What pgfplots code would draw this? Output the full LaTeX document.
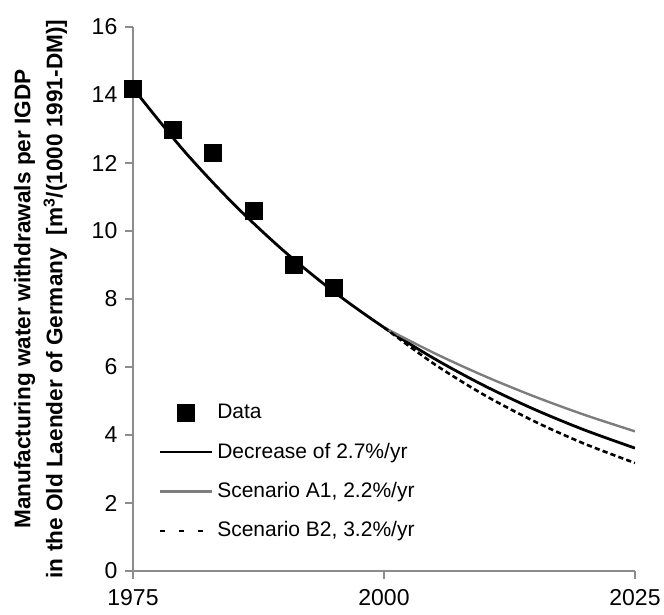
\documentclass[border=0pt]{standalone}
\usepackage{fontspec}
\setmainfont{Liberation Sans}
\usepackage{pgfplots}
\pgfplotsset{compat=1.18}
\definecolor{axisgray}{RGB}{140,140,140}
\definecolor{scengray}{RGB}{125,125,125}
\pgfplotsset{
  dashleg/.style={legend image code/.code={\draw[##1,dash pattern=on 2.5pt off 7pt] (0pt,0pt) -- (26pt,0pt);}},
}
\begin{document}
\begin{tikzpicture}
\useasboundingbox (-66.5pt,-22pt) rectangle (265.5pt,285.5pt);
\begin{axis}[
  scale only axis,
  width=251pt,height=272pt,
  at={(0,0)},anchor=south west,
  xmin=1975,xmax=2025,ymin=0,ymax=16,
  axis lines=left,
  axis line style={-,axisgray,line width=0.75pt},
  xtick={1975,2000,2025},
  ytick={0,2,...,16},
  tick align=outside,
  major tick length=3.8pt,
  tick style={axisgray,line width=0.75pt},
  tick label style={font=\fontsize{11.5}{13}\selectfont},
  /pgf/number format/assume math mode=true,
  xticklabel style={/pgf/number format/1000 sep={},yshift=-2pt},
  yticklabel style={xshift=-0.5pt},
  ylabel={Manufacturing water withdrawals per IGDP\\in the Old Laender of Germany\ \ [m\textsuperscript{3}/(1000 1991-DM)]},
  ylabel style={align=center,font=\bfseries\fontsize{11.3}{16}\selectfont,
    at={(axis description cs:-0.184,0.5)},anchor=center},
  legend style={draw=none,fill=none,at={(axis cs:1976.9,5.15)},anchor=north west,
    font=\fontsize{10.5}{12.6}\selectfont,row sep=6.6pt},
  legend cell align=left,
  legend image code/.code={\draw[mark repeat=2,mark phase=2,#1] plot coordinates {(0pt,0pt) (13pt,0pt) (26pt,0pt)};},
]
\addplot[only marks,mark=square*,mark size=4.25pt,black] coordinates {
  (1975,14.18) (1979,12.97) (1983,12.29) (1987,10.6) (1991,9.0) (1995,8.32)};
\addlegendentry{Data}
\addplot[black,line width=1.4pt,smooth] coordinates {
  (1975,14.2) (1980,12.384) (1985,10.800) (1990,9.419) (1995,8.214) (2000,7.163)
  (2005,6.247) (2010,5.448) (2015,4.751) (2020,4.144) (2025,3.614)};
\addlegendentry{Decrease of 2.7\%/yr}
\addplot[scengray,line width=1.2pt,smooth] coordinates {
  (2000,7.163) (2005,6.409) (2010,5.734) (2015,5.130) (2020,4.590) (2025,4.107)};
\addlegendentry{Scenario A1, 2.2\%/yr}
\addplot[black,line width=1.3pt,smooth,dash pattern=on 2.6pt off 1.6pt,dashleg] coordinates {
  (2000,7.163) (2005,6.088) (2010,5.174) (2015,4.398) (2020,3.738) (2025,3.177)};
\addlegendentry{Scenario B2, 3.2\%/yr}
\end{axis}
\end{tikzpicture}
\end{document}
